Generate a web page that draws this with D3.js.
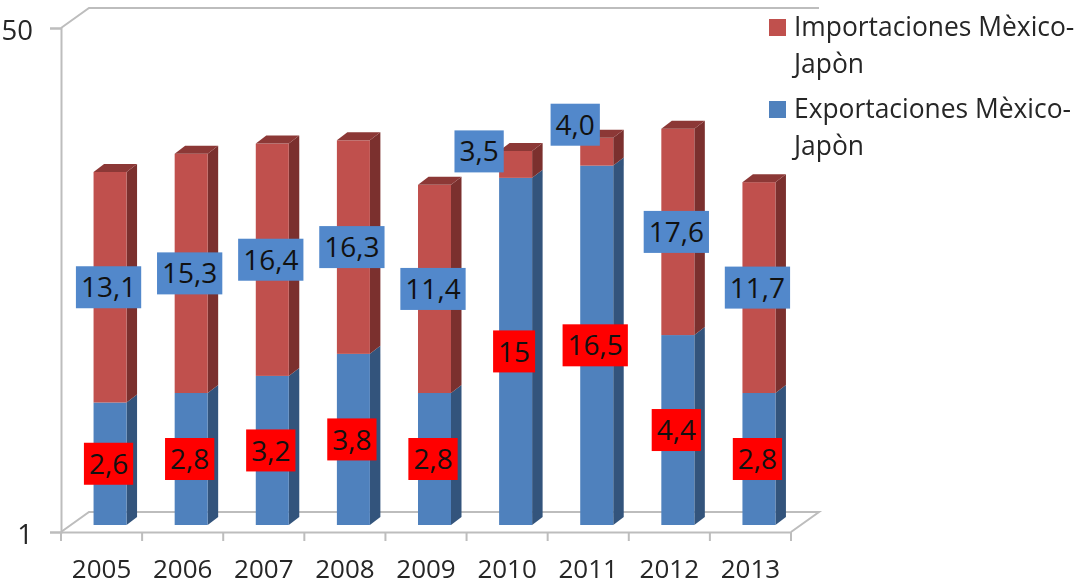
<!DOCTYPE html>
<html><head><meta charset="utf-8">
<script src="https://cdnjs.cloudflare.com/ajax/libs/d3/7.8.5/d3.min.js"></script>
<style>
html,body{margin:0;padding:0;background:#fff;overflow:hidden}
svg{display:block;filter:blur(0.7px)}
text{font-family:"Open Sans",sans-serif;fill:#262626}
</style></head><body>
<svg id="c" width="1078" height="585"></svg>
<script>
const years = ["2005","2006","2007","2008","2009","2010","2011","2012","2013"];
const exportaciones = [2.6,2.8,3.2,3.8,2.8,15,16.5,4.4,2.8];
const importaciones = [13.1,15.3,16.4,16.3,11.4,3.5,4.0,17.6,11.7];
const exportLabels = ["2,6","2,8","3,2","3,8","2,8","15","16,5","4,4","2,8"];
const importLabels = ["13,1","15,3","16,4","16,3","11,4","3,5","4,0","17,6","11,7"];
const legendNames = [["Importaciones Mèxico-","Japòn"],["Exportaciones Mèxico-","Japòn"]];
const yTicks = [1,50];
// labels moved by hand off their segments in the original
const importLabelNudge = {"2010":[-35,-13],"2011":[-20,-27]};

const C = {red:"#C0504D",redSide:"#7B302E",redTop:"#8C3836",blue:"#4F81BD",blueSide:"#33547C",
           lblRed:"#FF0000",lblBlue:"#5288CB",grid:"#BDBDBD"};
const plotL=61,plotR=791,plotB=532,plotT=28,depthX=28,depthY=20,barDX=8.5,sideX=10.5,sideY=8;

const svg=d3.select("#c");
const x=d3.scaleBand().domain(years).range([plotL,plotR]);
const y=d3.scaleLog().domain([1,50]).range([plotB,plotT]);
const yBar=d3.scaleLog().domain([1,50]).range([525,23.5]);
const barW=33;

const wall=svg.append("g").attr("fill","none").attr("stroke",C.grid).attr("stroke-width",2);
wall.append("path").attr("d",`M${plotL},${plotT}L${plotL+depthX},${plotT-depthY}H${plotR+depthX}`);
wall.append("path").attr("d",`M${plotL},${plotB}L${plotL+depthX},${plotB-depthY}H${plotR+depthX}L${plotR},${plotB}`);

const yAxis=svg.append("g").attr("transform",`translate(${plotL},0)`)
  .call(d3.axisLeft(y).tickValues(yTicks).tickFormat(d3.format("d")).tickSize(11).tickPadding(17));
const xAxis=svg.append("g").attr("transform",`translate(0,${plotB})`)
  .call(d3.axisBottom(x).tickSize(0).tickPadding(38));
[yAxis,xAxis].forEach(a=>{
  a.selectAll("path.domain").attr("stroke",C.grid).attr("stroke-width",2);
  a.selectAll("line").attr("stroke",C.grid).attr("stroke-width",2);
  a.selectAll("text").attr("font-size",26).attr("font-family",'"Open Sans",sans-serif').attr("fill","#262626");
});
xAxis.selectAll("text").attr("dy","0.3em");
yAxis.selectAll("text").attr("font-size",27.5).attr("dy","0.42em");
svg.append("g").selectAll("line").data(years.map((d,i)=>i).concat(years.length)).join("line")
  .attr("x1",i=>plotL+i*x.step()).attr("x2",i=>plotL+i*x.step())
  .attr("y1",plotB).attr("y2",plotB+9).attr("stroke",C.grid).attr("stroke-width",2);

const rows=years.map((year,i)=>({year,exp:exportaciones[i],imp:importaciones[i],expL:exportLabels[i],impL:importLabels[i]}));
const stacked=d3.stack().keys(["exp","imp"])(rows);
const segY=v=>yBar(Math.max(v,1));
const bx=d=>x(d.data.year)+x.step()/2+barDX-barW/2;

[{s:stacked[0],f:C.blue,side:C.blueSide},{s:stacked[1],f:C.red,side:C.redSide}].forEach(({s,f,side})=>{
  const g=svg.append("g");
  g.selectAll("path.side").data(s).join("path").attr("class","side").attr("fill",side)
    .attr("d",d=>{const X=bx(d)+barW,a=segY(d[0]),b=segY(d[1]);
      return `M${X},${a}V${b}l${sideX},${-sideY}V${a-sideY}Z`;});
  g.selectAll("rect").data(s).join("rect").attr("fill",f)
    .attr("x",bx).attr("width",barW).attr("y",d=>segY(d[1])).attr("height",d=>segY(d[0])-segY(d[1]));
});
svg.append("g").selectAll("path").data(stacked[1]).join("path").attr("fill",C.redTop)
  .attr("d",d=>{const X=bx(d),b=segY(d[1]);return `M${X},${b}l${sideX},${-sideY}h${barW}l${-sideX},${sideY}Z`;});

function labels(series,key,fill,nudge){
  const g=svg.append("g").selectAll("g").data(series).join("g").attr("transform",d=>{
    const n=nudge[d.data.year]||[0,0];
    return `translate(${bx(d)+barW/2-1.5+n[0]},${(segY(d[0])+segY(d[1]))/2+n[1]})`;});
  const t=g.append("text").attr("text-anchor","middle").attr("dy","0.36em").attr("font-size",28)
    .style("fill","#111").text(d=>d.data[key]);
  g.insert("rect","text").attr("fill",fill).attr("y",-21).attr("height",42)
    .each(function(d,i){const w=t.nodes()[i].getComputedTextLength()+10;
      d3.select(this).attr("x",-w/2).attr("width",w);});
}
labels(stacked[0],"expL",C.lblRed,{});
labels(stacked[1],"impL",C.lblBlue,importLabelNudge);

const lg=svg.append("g").selectAll("g").data(legendNames).join("g");
lg.append("rect").attr("x",769).attr("y",(d,i)=>19+i*82).attr("width",17).attr("height",17)
  .attr("fill",(d,i)=>i?C.blue:C.red);
lg.each(function(lines,i){
  d3.select(this).selectAll("text").data(lines).join("text").attr("x",794)
    .attr("y",(d,k)=>36+i*82+k*37).attr("font-size",26.4).text(d=>d);
});
</script>
</body></html>
